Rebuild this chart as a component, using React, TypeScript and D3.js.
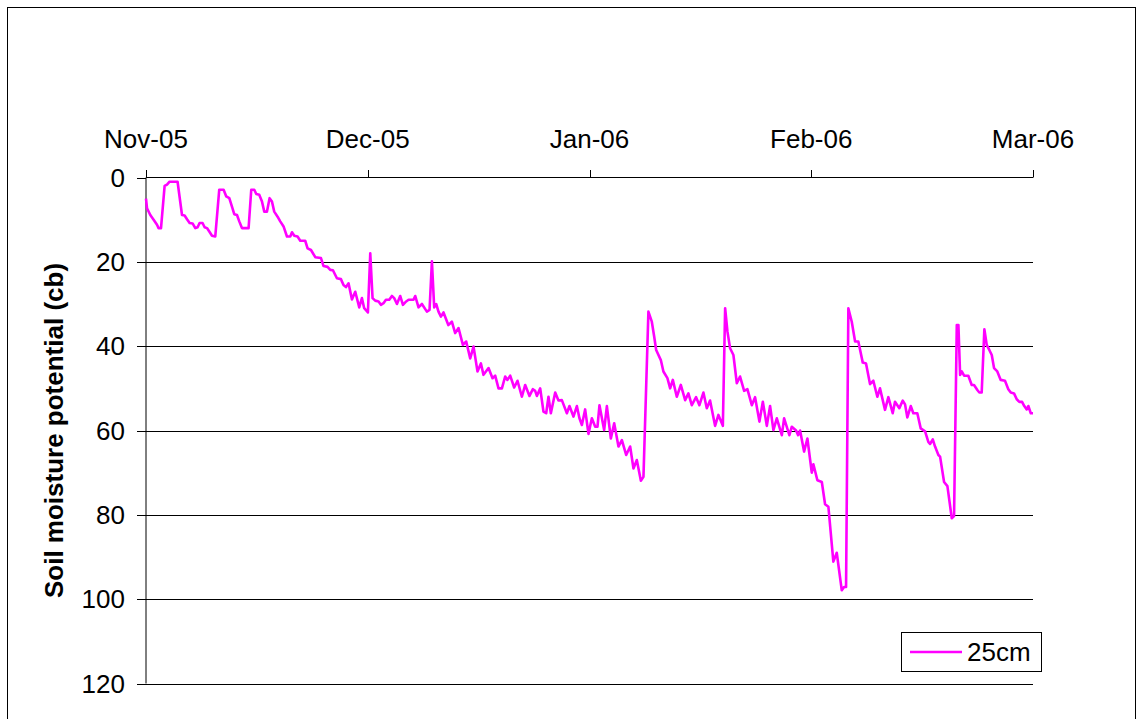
import React from "react";
import * as d3 from "d3";

// Days since 1 Nov 2005 (fractional, ~twice-daily readings)
const days = [
  0, 0.14, 0.58, 1.03, 1.49, 1.7, 2.03, 2.52, 2.84, 3.19, 4.27, 4.87, 5.22, 5.55, 5.9, 6.3, 6.67, 6.98, 7.25, 7.65,
  7.93, 8.25, 8.56, 8.93, 9.37, 9.91, 10.5, 10.86, 11.27, 11.63, 11.94, 12.31, 12.62, 12.98, 13.88, 14.24, 14.65, 14.92, 15.32, 15.69,
  16.0, 16.36, 16.72, 17.04, 17.35, 17.8, 18.16, 18.61, 19.07, 19.52, 19.75, 20.06, 20.5, 20.87, 21.54, 21.86, 22.32, 22.9, 23.67, 24.02,
  24.56, 24.93, 25.29, 25.83, 26.37, 26.72, 27.05, 27.4, 27.86, 28.31, 28.85, 29.21, 29.52, 30.02, 30.34, 30.65, 31.01, 31.46, 31.78, 32.13,
  32.46, 32.91, 33.27, 33.58, 33.95, 34.39, 34.76, 35.2, 35.52, 36.19, 36.42, 36.87, 37.33, 38.0, 38.36, 38.68, 38.99, 39.26, 39.57, 39.9,
  40.25, 40.9, 41.38, 41.83, 42.28, 42.87, 43.32, 43.86, 44.31, 44.85, 45.31, 45.66, 46.34, 46.88, 47.24, 47.69, 48.15, 48.59, 48.9, 49.27,
  49.81, 50.26, 50.85, 51.3, 51.88, 52.34, 52.65, 52.88, 53.33, 53.77, 54.14, 54.45, 54.77, 55.36, 55.8, 56.26, 56.94, 57.29, 57.83, 58.29,
  58.64, 58.97, 59.41, 59.86, 60.32, 60.77, 61.08, 61.35, 61.98, 62.35, 62.89, 63.34, 63.92, 64.38, 64.96, 65.5, 65.95, 66.4, 66.95, 67.3,
  67.97, 68.43, 68.75, 69.02, 69.65, 70.0, 70.54, 70.91, 71.27, 71.81, 72.35, 72.94, 73.38, 73.84, 74.42, 74.87, 75.41, 75.87, 76.31, 76.99,
  77.44, 78.04, 78.35, 78.66, 79.02, 79.47, 79.93, 80.37, 80.92, 81.36, 81.96, 82.4, 82.99, 83.45, 83.99, 84.43, 84.88, 85.34, 86.02, 86.33,
  87.04, 87.37, 87.95, 88.22, 88.49, 89.03, 89.48, 90.07, 90.29, 90.83, 91.43, 91.87, 92.32, 92.99, 93.45, 94.13, 94.44, 94.71, 95.02, 95.48,
  95.93, 96.37, 96.97, 97.41, 97.95, 98.4, 98.94, 99.3, 99.98, 100.43, 101.02, 101.33, 101.92, 102.38, 102.69, 103.0, 103.46, 103.81, 104.35, 104.81,
  105.4, 105.84, 106.07, 106.44, 106.75, 107.2, 107.43, 107.97, 108.42, 109.01, 109.32, 109.69, 109.91, 110.14, 110.36, 110.68, 111.25, 111.71, 112.02, 112.47,
  112.74, 113.06, 113.42, 113.74, 114.09, 114.42, 114.73, 115.17, 115.63, 116.21, 116.66, 116.99, 117.43, 117.8, 118.15, 118.52, 118.82, 119.15, 119.37, 119.7,
  120,
];

// Soil moisture potential (cb) at 25cm
const potential25 = [
  5, 7.3, 8.9, 10, 11.2, 12, 12, 2, 1.7, 1, 1, 8.9, 9, 9.9, 10.8, 10.9, 12, 11.8, 10.8, 10.8,
  11.8, 12, 12.8, 13.8, 14, 2.9, 2.9, 4.5, 4.9, 6.9, 8.7, 8.9, 10.4, 12, 12, 2.9, 2.9, 3.9, 4.1, 5.7,
  8.1, 8.1, 4.9, 5.7, 8.1, 9.3, 10.4, 11.6, 14, 14, 13, 13.8, 14, 15, 15, 16.8, 17.2, 18.9, 19.1, 21,
  21.2, 21.9, 22, 23.9, 24.1, 25.5, 26, 25.1, 28.9, 27.1, 30.8, 28.6, 31, 32, 18, 28.6, 29.2, 29.4, 30.2, 29.8,
  29, 29, 28.1, 28.6, 30, 28.1, 30.2, 29.4, 29, 29, 28.1, 30.8, 30, 31.8, 31.4, 19.9, 30.8, 30, 31.8, 33,
  32, 35, 34.2, 36.9, 35.7, 39.7, 38.9, 42.9, 40.1, 46, 44.1, 46.8, 45.2, 47.6, 47, 50, 50, 47.2, 48, 47,
  49.8, 48.2, 52, 49.2, 51.8, 50.2, 50.6, 51.8, 50, 55.5, 55.9, 52, 55.9, 51, 52.9, 52.8, 55.9, 54.2, 56.7, 54.2,
  57.1, 58.7, 55, 60.8, 57.1, 59.1, 59.1, 54, 59.9, 54.2, 61.9, 58.3, 63.8, 62.3, 65.8, 63.8, 69, 67, 71.9, 71,
  31.8, 34.2, 37.7, 40.9, 43.3, 46, 47.6, 50, 48, 52, 49.2, 52.8, 51.2, 54, 52.1, 54, 51, 54.7, 52.9, 58.9,
  56.3, 58.9, 31, 36.5, 40.5, 42.1, 48.8, 47.2, 50.6, 50.2, 54, 52.1, 57.9, 53.2, 58.9, 54.2, 59.9, 57.1, 61.1, 57.1,
  61.1, 59.1, 60, 61.1, 60, 65, 61.9, 70, 68, 71.8, 72.2, 77.5, 78.1, 91.1, 89, 97.9, 97.1, 97.1, 31, 34.2,
  38.9, 38.9, 43.9, 44.1, 49, 48.2, 52, 50, 55.1, 52.1, 55.9, 53.2, 54.7, 52.9, 53.8, 56.9, 54.2, 55.9, 55.9, 59.5,
  60.2, 62.7, 63.2, 62.1, 63.8, 65.8, 66.2, 72.2, 73.2, 80.8, 80.3, 35, 35, 46.8, 46, 47, 47, 49.2, 49.2, 50.4,
  51, 51, 36, 39.7, 40.9, 42.1, 45.2, 46, 48, 48.2, 50.2, 51, 51.2, 52.6, 53.2, 53.2, 54.2, 55, 54.2, 55.9,
  55.9,
];

const xTickDays = [0, 30, 60, 90, 120];
const xTickLabels = ["Nov-05", "Dec-05", "Jan-06", "Feb-06", "Mar-06"];
const yTicks = [0, 20, 40, 60, 80, 100, 120];
const seriesName = "25cm";
const yTitle = "Soil moisture potential (cb)";

const W = 1137;
const H = 719;
const FONT = "'Liberation Sans', Arial, Helvetica, sans-serif";
const MAGENTA = "#FF00FF";

export default function App() {
  const x = d3.scaleLinear().domain([0, 120]).range([146, 1033]);
  const y = d3.scaleLinear().domain([0, 120]).range([177.5, 683.5]);

  const pts: [number, number][] = days.map((d, i) => [d, potential25[i]]);
  const line = d3
    .line<[number, number]>()
    .x((p) => x(p[0]))
    .y((p) => y(p[1]));

  const x0 = x(0);
  const x1 = x(120);
  const yMid = (y(0) + y(120)) / 2;

  return (
    <svg
      width={W}
      height={H}
      style={{ position: "absolute", left: 0, top: 0, background: "#fff" }}
      fontFamily={FONT}
    >
      <rect x={0} y={0} width={W} height={H} fill="#fff" />
      {/* chart border */}
      <rect x={7.5} y={7.5} width={1128} height={740} fill="none" stroke="#000" strokeWidth={1} />

      {/* gridlines */}
      {yTicks.slice(1).map((v) => (
        <line key={"g" + v} x1={x0} x2={x1} y1={Math.round(y(v)) + 0.5} y2={Math.round(y(v)) + 0.5} stroke="#000" strokeWidth={1} />
      ))}

      {/* y axis */}
      <line x1={x0} x2={x0} y1={y(0)} y2={y(120)} stroke="#000" strokeWidth={1} />
      {yTicks.map((v) => (
        <g key={"yt" + v}>
          <line x1={x0 - 9} x2={x0} y1={Math.round(y(v)) + 0.5} y2={Math.round(y(v)) + 0.5} stroke="#000" strokeWidth={1} />
          <text x={125} y={y(v)} dy="0.35em" textAnchor="end" fontSize={26} fill="#000">
            {v}
          </text>
        </g>
      ))}

      {/* x axis at top */}
      <line x1={x0} x2={x1} y1={y(0)} y2={y(0)} stroke="#000" strokeWidth={1} />
      {xTickDays.map((d, i) => (
        <g key={"xt" + d}>
          <line x1={Math.round(x(d)) + 0.5} x2={Math.round(x(d)) + 0.5} y1={y(0) - 7.5} y2={y(0)} stroke="#000" strokeWidth={1} />
          <text x={x(d)} y={148} textAnchor="middle" fontSize={26} fill="#000">
            {xTickLabels[i]}
          </text>
        </g>
      ))}

      {/* y axis title */}
      <text
        transform={`translate(63,${yMid}) rotate(-90)`}
        textAnchor="middle"
        fontSize={26}
        fontWeight="bold"
        fill="#000"
      >
        {yTitle}
      </text>

      {/* series */}
      <path d={line(pts) || ""} fill="none" stroke={MAGENTA} strokeWidth={2.6} strokeLinejoin="round" />

      {/* legend */}
      <rect x={901.5} y={632.5} width={140} height={39} fill="#fff" stroke="#000" strokeWidth={1} />
      <line x1={910} x2={962} y1={652} y2={652} stroke={MAGENTA} strokeWidth={2.6} />
      <text x={967} y={652} dy="0.35em" fontSize={26} fill="#000">
        {seriesName}
      </text>
    </svg>
  );
}
